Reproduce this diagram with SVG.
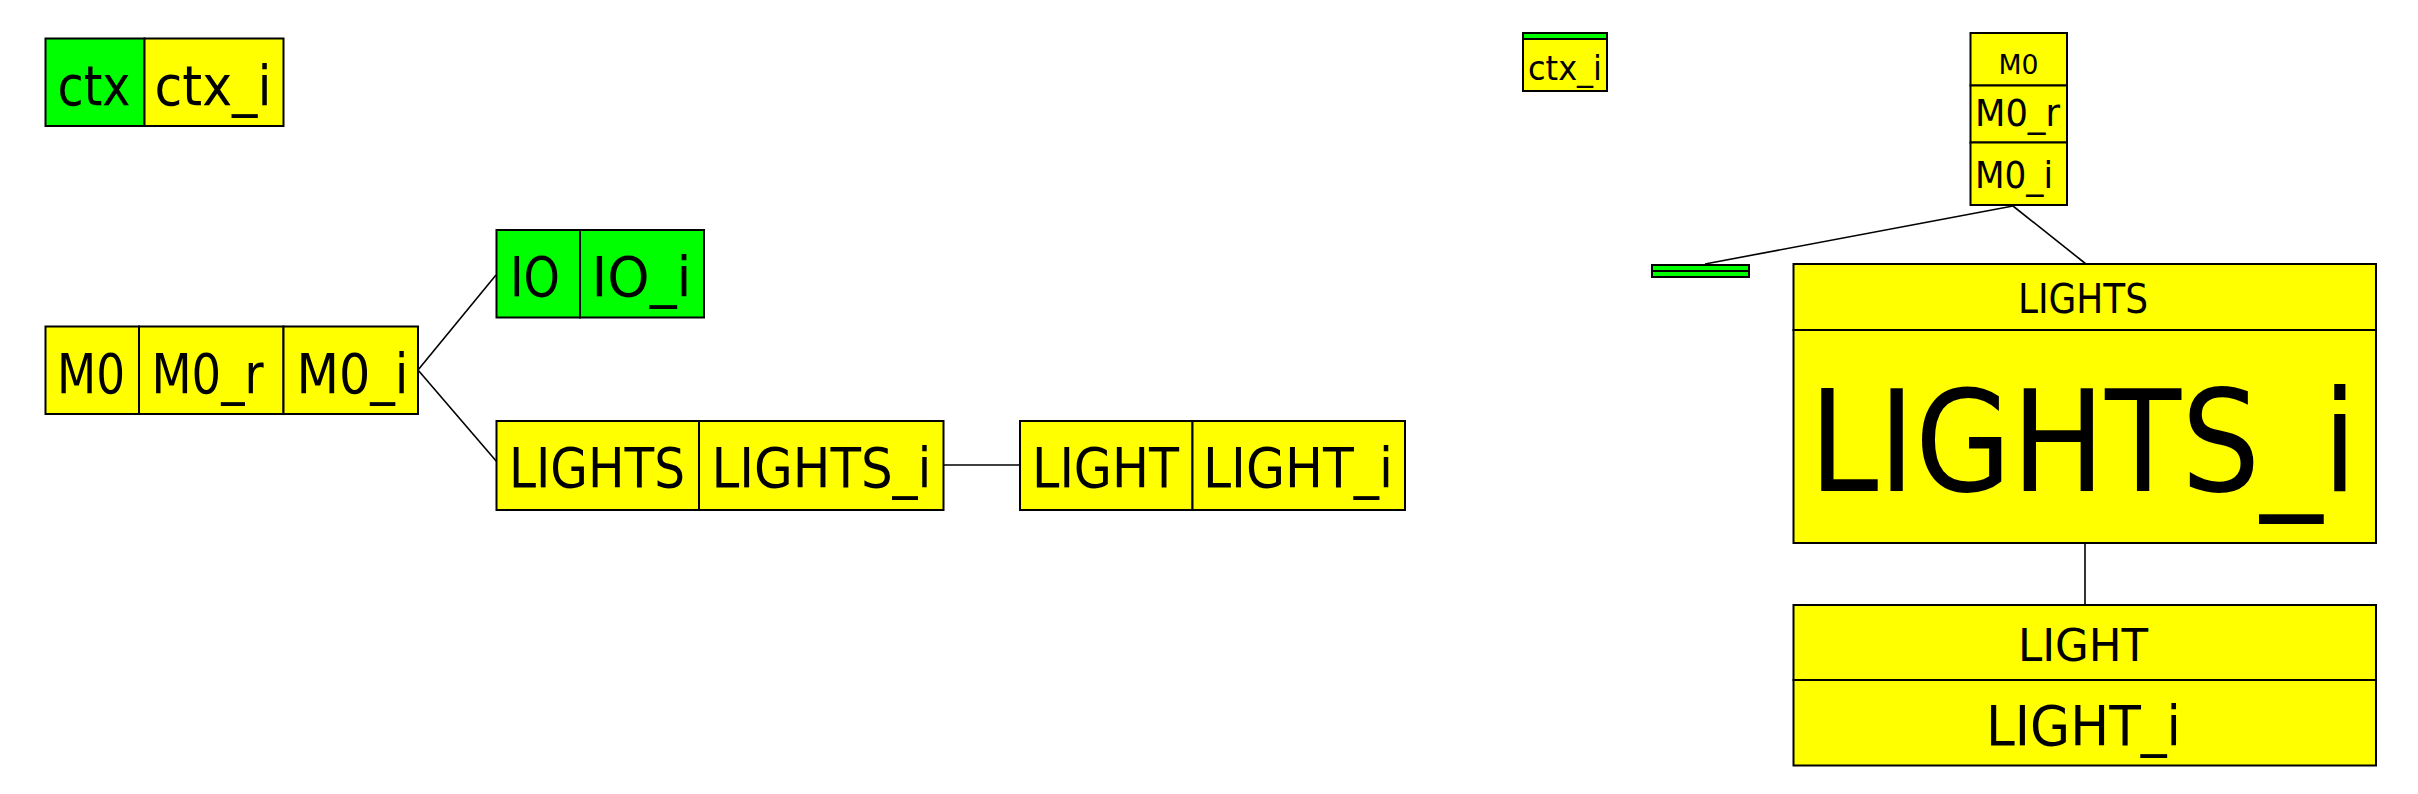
<svg xmlns="http://www.w3.org/2000/svg" width="2418" height="794" viewBox="0 0 2418 794">
<style>
.y{fill:#ffff00;stroke:#000;stroke-width:2}
.g{fill:#00ff00;stroke:#000;stroke-width:2}
.c{stroke:#000;stroke-width:1.6;fill:none}
text{font-family:"DejaVu Sans Condensed","DejaVu Sans",Tahoma,sans-serif;fill:#000;text-anchor:middle}
.t55{font-size:56px}
</style>
<rect width="2418" height="794" fill="#fff"/>
<g id="connectors">
<line class="c" x1="418" y1="370" x2="496" y2="275"/>
<line class="c" x1="418" y1="370" x2="497" y2="462"/>
<line class="c" x1="943" y1="465" x2="1020" y2="465"/>
<line class="c" x1="1705" y1="264" x2="2013" y2="206"/>
<line class="c" x1="2013" y1="206" x2="2086" y2="264"/>
<line class="c" x1="2085" y1="543" x2="2085" y2="605"/>
</g>
<g id="ctx">
<rect class="g" x="45.5" y="38.5" width="99" height="87.5"/>
<rect class="y" x="144.5" y="38.5" width="139" height="87.5"/>
<text class="t55" x="94" y="105" textLength="73" lengthAdjust="spacingAndGlyphs">ctx</text>
<text class="t55" x="213" y="105" textLength="117" lengthAdjust="spacingAndGlyphs">ctx_i</text>
</g>
<g id="M0">
<rect class="y" x="45.5" y="326.5" width="93.5" height="87.5"/>
<rect class="y" x="139" y="326.5" width="144.5" height="87.5"/>
<rect class="y" x="283.5" y="326.5" width="134.5" height="87.5"/>
<text class="t55" x="91" y="393" textLength="68" lengthAdjust="spacingAndGlyphs">M0</text>
<text class="t55" x="207.5" y="393" textLength="112" lengthAdjust="spacingAndGlyphs">M0_r</text>
<text class="t55" x="352.5" y="393" textLength="112" lengthAdjust="spacingAndGlyphs">M0_i</text>
</g>
<g id="IO">
<rect class="g" x="496.5" y="230" width="83.5" height="87.5"/>
<rect class="g" x="580" y="230" width="124" height="87.5"/>
<text class="t55" x="535" y="295.5" textLength="50" lengthAdjust="spacingAndGlyphs">IO</text>
<text class="t55" x="641.5" y="295.5" textLength="100" lengthAdjust="spacingAndGlyphs">IO_i</text>
</g>
<g id="LIGHTS">
<rect class="y" x="496.5" y="421" width="202.5" height="89"/>
<rect class="y" x="699" y="421" width="244.5" height="89"/>
<text class="t55" x="597" y="487" textLength="176" lengthAdjust="spacingAndGlyphs">LIGHTS</text>
<text class="t55" x="821.5" y="487" textLength="220" lengthAdjust="spacingAndGlyphs">LIGHTS_i</text>
</g>
<g id="LIGHT">
<rect class="y" x="1020" y="421" width="172.5" height="89"/>
<rect class="y" x="1192.5" y="421" width="212.5" height="89"/>
<text class="t55" x="1105.5" y="487" textLength="147" lengthAdjust="spacingAndGlyphs">LIGHT</text>
<text class="t55" x="1298" y="487" textLength="190" lengthAdjust="spacingAndGlyphs">LIGHT_i</text>
</g>
<g id="ctx_i_small">
<rect class="y" x="1523" y="33" width="84" height="58"/>
<rect class="g" x="1523" y="33" width="84" height="6"/>
<text x="1565" y="80" style="font-size:34px" textLength="74" lengthAdjust="spacingAndGlyphs">ctx_i</text>
</g>
<g id="M0_vertical">
<rect class="y" x="1970.5" y="33" width="96.5" height="52.5"/>
<rect class="y" x="1970.5" y="85.5" width="96.5" height="57"/>
<rect class="y" x="1970.5" y="142.5" width="96.5" height="62.5"/>
<text x="2018.5" y="73.5" style="font-size:27px" textLength="40" lengthAdjust="spacingAndGlyphs">M0</text>
<text x="2017.5" y="126" style="font-size:38px" textLength="85" lengthAdjust="spacingAndGlyphs">M0_r</text>
<text x="2014" y="188" style="font-size:38px" textLength="78" lengthAdjust="spacingAndGlyphs">M0_i</text>
</g>
<g id="IO_small">
<rect class="g" x="1652" y="265" width="97" height="6"/>
<rect class="g" x="1652" y="271" width="97" height="6"/>
</g>
<g id="LIGHTS_big">
<rect class="y" x="1793.5" y="264" width="582.5" height="66"/>
<rect class="y" x="1793.5" y="330" width="582.5" height="213"/>
<text x="2083" y="312.5" style="font-size:40px" textLength="130" lengthAdjust="spacingAndGlyphs">LIGHTS</text>
<text x="2083" y="490.5" style="font-size:140px" textLength="548" lengthAdjust="spacingAndGlyphs">LIGHTS_i</text>
</g>
<g id="LIGHT_big">
<rect class="y" x="1793.5" y="605" width="582.5" height="75"/>
<rect class="y" x="1793.5" y="680" width="582.5" height="85.5"/>
<text x="2083" y="660.5" style="font-size:45px" textLength="130" lengthAdjust="spacingAndGlyphs">LIGHT</text>
<text x="2083.5" y="745" style="font-size:55px" textLength="195" lengthAdjust="spacingAndGlyphs">LIGHT_i</text>
</g>
</svg>
